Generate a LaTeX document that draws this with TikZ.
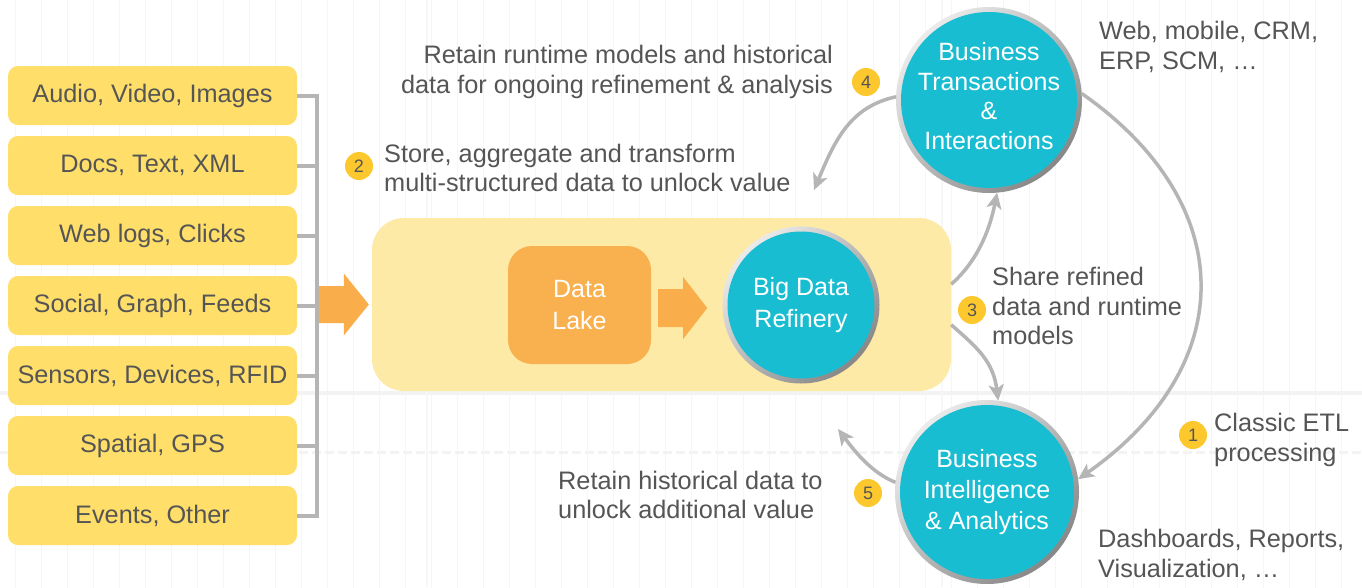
\documentclass[tikz,border=0pt]{standalone}
\usepackage{fontspec}
\setmainfont{Liberation Sans}
\usetikzlibrary{arrows.meta,calc}

\definecolor{inkgray}{HTML}{555555}
\definecolor{srcyellow}{HTML}{FFDF6A}
\definecolor{panelyellow}{HTML}{FDEAA6}
\definecolor{lakeorange}{HTML}{F9B04E}
\definecolor{arroworange}{HTML}{F9AD4B}
\definecolor{hubteal}{HTML}{19BDD1}
\definecolor{linkgray}{HTML}{B5B5B5}
\definecolor{badgegold}{HTML}{FCC82D}
\definecolor{gridfaint}{HTML}{F6F6F6}
\definecolor{gridband}{HTML}{F3F3F3}
\definecolor{gridthin}{HTML}{F7F7F7}
\definecolor{ringlight}{HTML}{EBEBEB}
\definecolor{ringdark}{HTML}{878787}

\newcommand\dgmtext{\fontsize{25.3}{29.5}\selectfont}

\begin{document}
\begin{tikzpicture}[x=1pt,y=-1pt,
  srcbox/.style={rectangle, rounded corners=10pt, fill=srcyellow,
    minimum width=289pt, minimum height=59pt, inner sep=0pt,
    text=inkgray, font=\dgmtext},
  panelbox/.style={rectangle, rounded corners=32pt, fill=panelyellow,
    minimum width=579pt, minimum height=173pt, inner sep=0pt},
  lakebox/.style={rectangle, rounded corners=24pt, fill=lakeorange,
    minimum width=143pt, minimum height=118pt, inner sep=0pt,
    text=white, align=center, font=\fontsize{25}{32}\selectfont},
  hub/.style={circle, fill=hubteal, text=white, inner sep=0pt,
    outer sep=5pt, align=center},
  ring/.style={top color=ringlight, bottom color=ringdark, shading angle=45},
  bracket/.style={draw=linkgray, line width=4pt, line join=miter},
  link/.style={draw=linkgray, line width=3.5pt,
    -{Stealth[length=16pt, width=15pt, inset=4pt]}},
  blockarrow/.style={fill=arroworange},
  badge/.style={circle, fill=badgegold, minimum size=28pt, inner sep=0pt,
    text=inkgray, font=\fontsize{18}{18}\selectfont},
  note/.style={text=inkgray, font=\dgmtext, inner sep=0pt}
]
\useasboundingbox (0,0) rectangle (1362,587);
\fill[white] (0,0) rectangle (1362,587);

% faint drafting grid
\begin{scope}
  \clip (0,0) rectangle (1362,587);
  \draw[gridfaint, line width=0.8pt, shift={(15,8)}, step=26] (-26,-26) grid (1400,620);
  \draw[gridband, line width=4pt] (0,393) -- (1362,393);
  \draw[gridband, line width=3pt, dash pattern=on 9pt off 4pt] (0,452) -- (1362,452);
  \draw[gridthin, line width=2pt] (427,0) -- (427,587);
  \draw[gridthin, line width=2pt] (942,0) -- (942,587);
\end{scope}

% data sources
\foreach \t [count=\i] in {{Audio, Video, Images},{Docs, Text, XML},{Web logs, Clicks},
    {Social, Graph, Feeds},{Sensors, Devices, RFID},{Spatial, GPS},{Events, Other}}
  \node[srcbox] (src\i) at (152.5, {95.5+70*(\i-1)}) {\t};

% bracket gathering the sources
\coordinate (spine) at (316.5,0);
\draw[bracket] (src1.east) -- (spine |- src1.east) -- (spine |- src7.east) -- (src7.east);
\foreach \i in {2,...,6}
  \draw[bracket] (src\i.east) -- (spine |- src\i.east);

% refinery panel
\node[panelbox] (panel) at (661.5,304.5) {};

% feed arrow into the panel
\path (panel.west) ++(-3,0) coordinate (feedtip);
\fill[blockarrow] (feedtip) -- ++(-25,-31) -- ++(0,12.5) -- ++(-25,0) -- ++(0,37)
  -- ++(25,0) -- ++(0,12.5) -- cycle;

% data lake
\node[lakebox] (lake) at (579.5,305) {Data\\Lake};

% big data refinery
\coordinate (refc) at (801,305);
\shade[ring] (refc) circle[radius=78.5pt];
\node[hub, minimum size=147pt, font=\fontsize{25}{32}\selectfont] (ref) at (refc) {Big Data\\Refinery};

% lake to refinery arrow
\path (lake.east) ++(56,3) coordinate (refinetip);
\fill[blockarrow] (refinetip) -- ++(-24,-31) -- ++(0,12) -- ++(-25,0) -- ++(0,38)
  -- ++(25,0) -- ++(0,12) -- cycle;

% business transactions (text block lifted slightly above the centre)
\coordinate (btc) at (989,100);
\shade[ring] (btc) circle[radius=93pt];
\node[hub, minimum size=176pt, font=\fontsize{25}{29.5}\selectfont] (bt) at (btc)
  {\raisebox{-5.3pt}[0pt][0pt]{\begin{tabular}{@{}c@{}}Business\\Transactions\\\&\\Interactions\end{tabular}}};

% business intelligence
\coordinate (bic) at (987,492);
\shade[ring] (bic) circle[radius=92pt];
\node[hub, minimum size=174pt, font=\fontsize{25}{31}\selectfont] (bi) at (bic)
  {Business\\Intelligence\\\& Analytics};

% flows
\coordinate (retaintip) at (814,190);
\coordinate (historytip) at (838,429);
\draw[link] (bt.178) .. controls +(-46,10) and +(21,-50) .. (retaintip);
\draw[link] (panel.4) .. controls +(25,-22) and +(-8,40) .. (bt.275);
\draw[link] (panel.-4.5) .. controls +(25,22) and +(-5,-40) .. (bi.83);
\draw[link] (bt.4) .. controls +(160,112) and +(160,-112) .. (bi.8);
\draw[link] (bi.174) .. controls +(-25,-10) and +(15,20) .. (historytip);

% step badges
\node[badge] (tag1) at (1193,435) {1};
\node[badge] (tag2) at (359,166) {2};
\node[badge] (tag3) at (972,310) {3};
\node[badge] (tag4) at (866,82) {4};
\node[badge] (tag5) at (868,493) {5};

% captions
\node[note, anchor=east, align=right] (cap4) at (833,72)
  {Retain runtime models and historical\\data for ongoing refinement \& analysis};
\node[note, anchor=west, align=left] (cap2) at (384,168)
  {Store, aggregate and transform\\multi-structured data to unlock value};
\node[note, anchor=west, align=left] (cap3) at (992,306)
  {Share refined\\data and runtime\\models};
\node[note, anchor=west, align=left] (capweb) at (1099,47)
  {Web, mobile, CRM,\\ERP, SCM, …};
\node[note, anchor=west, align=left] (cap1) at (1214,440)
  {Classic ETL\\processing};
\node[note, anchor=west, align=left] (cap5) at (558,495)
  {Retain historical data to\\unlock additional value};
\node[note, anchor=west, align=left] (capdash) at (1098,555)
  {Dashboards, Reports,\\Visualization, …};
\end{tikzpicture}
\end{document}
